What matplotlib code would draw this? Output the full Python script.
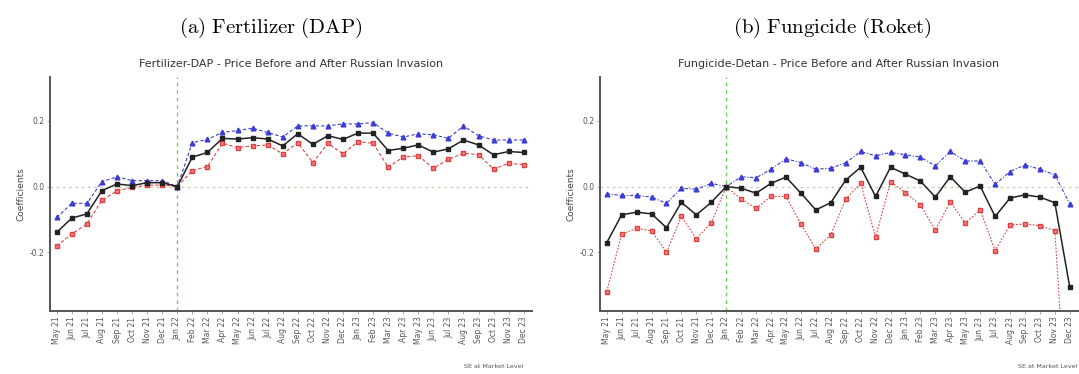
import numpy as np
import matplotlib.pyplot as plt

plt.rcParams['mathtext.fontset'] = 'cm'

months = ["May 21", "Jun 21", "Jul 21", "Aug 21", "Sep 21", "Oct 21", "Nov 21", "Dec 21",
          "Jan 22", "Feb 22", "Mar 22", "Apr 22", "May 22", "Jun 22", "Jul 22", "Aug 22",
          "Sep 22", "Oct 22", "Nov 22", "Dec 22", "Jan 23", "Feb 23", "Mar 23", "Apr 23",
          "May 23", "Jun 23", "Jul 23", "Aug 23", "Sep 23", "Oct 23", "Nov 23", "Dec 23"]

# Fertilizer (DAP): coefficient, upper and lower bound
dap_coef = [-0.139, -0.096, -0.083, -0.012, 0.008, 0.003, 0.012, 0.012,
            0.0, 0.090, 0.104, 0.147, 0.145, 0.149, 0.145, 0.124,
            0.161, 0.129, 0.155, 0.144, 0.163, 0.163, 0.110, 0.117,
            0.127, 0.105, 0.115, 0.142, 0.127, 0.097, 0.107, 0.104]
dap_upper = [-0.094, -0.051, -0.051, 0.015, 0.030, 0.018, 0.018, 0.018,
             0.0, 0.134, 0.144, 0.165, 0.171, 0.178, 0.165, 0.151,
             0.185, 0.185, 0.185, 0.191, 0.191, 0.195, 0.163, 0.151,
             0.161, 0.158, 0.147, 0.185, 0.155, 0.142, 0.142, 0.142]
dap_lower = [-0.181, -0.144, -0.114, -0.041, -0.013, -0.002, 0.004, 0.005,
             0.0, 0.049, 0.061, 0.132, 0.119, 0.124, 0.127, 0.100,
             0.134, 0.073, 0.132, 0.100, 0.137, 0.132, 0.059, 0.090,
             0.094, 0.056, 0.083, 0.102, 0.097, 0.053, 0.071, 0.067]

# Fungicide (Detan)
fun_coef = [-0.171, -0.086, -0.078, -0.083, -0.125, -0.048, -0.086, -0.048,
            0.0, -0.005, -0.020, 0.010, 0.029, -0.020, -0.071, -0.049,
            0.020, 0.059, -0.030, 0.059, 0.038, 0.017, -0.032, 0.030,
            -0.017, 0.002, -0.091, -0.035, -0.025, -0.032, -0.049, -0.307]
fun_upper = [-0.022, -0.027, -0.027, -0.032, -0.051, -0.005, -0.008, 0.010,
             0.0, 0.030, 0.027, 0.053, 0.085, 0.073, 0.053, 0.056,
             0.073, 0.107, 0.094, 0.104, 0.097, 0.090, 0.063, 0.107,
             0.078, 0.078, 0.007, 0.046, 0.066, 0.053, 0.036, -0.053]
fun_lower = [-0.320, -0.145, -0.127, -0.135, -0.200, -0.091, -0.159, -0.110,
             0.0, -0.038, -0.066, -0.030, -0.030, -0.114, -0.190, -0.147,
             -0.038, 0.010, -0.154, 0.015, -0.018, -0.056, -0.132, -0.046,
             -0.112, -0.071, -0.195, -0.117, -0.114, -0.119, -0.134, -0.85]

# subcaption, title, data, axes [left, width] in pixels, caption x, line styles
panels = [
    ("$\\mathrm{(a)\\ Fertilizer\\ (DAP)}$", "Fertilizer-DAP - Price Before and After Russian Invasion",
     dap_coef, dap_upper, dap_lower, (50, 482), 271, 524, (0, (3, 2)), (0, (3, 2))),
    ("$\\mathrm{(b)\\ Fungicide\\ (Roket)}$", "Fungicide-Detan - Price Before and After Russian Invasion",
     fun_coef, fun_upper, fun_lower, (600, 478), 832, 1077, (0, (3, 1.5, 1, 1.5)), (0, (1.5, 1.5))),
]

W, H = 1079, 374
fig = plt.figure(figsize=(W / 100, H / 100), dpi=100)
x = np.arange(len(months))

for sub, title, coef, upper, lower, (x0, w), sub_x, cap_x, ls_up, ls_lo in panels:
    ax = fig.add_axes([x0 / W, 1 - 311 / H, w / W, (311 - 77) / H])
    ax.axhline(0, color="#c8c8a8", lw=0.9, ls=(0, (2, 3)), zorder=1)
    ax.axvline(8, color="#66cc55", lw=0.9, ls=(0, (3, 3)), zorder=1)
    ax.plot(x, upper, color="#3b3bd6", lw=0.8, ls=ls_up, marker="^", ms=3.4, zorder=3)
    ax.plot(x, lower, color="#e04040", lw=0.8, ls=ls_lo, marker="s", ms=3,
            mfc="#f08080", zorder=3)
    ax.plot(x, coef, color="#222222", lw=1.1, marker="s", ms=3.2, zorder=4)

    ax.set_xlim(-0.45, 31.55)
    ax.set_ylim(-0.379, 0.334)
    ax.set_xticks(x)
    ax.set_xticklabels(months, rotation=90, fontsize=5.5, color="#555555")
    ax.set_yticks([-0.2, 0.0, 0.2])
    ax.set_yticklabels(["-0.2", "0.0", "0.2"], fontsize=5.5, color="#555555")
    ax.tick_params(length=2, width=0.5, color="#888888", pad=2)
    for s in ["top", "right"]:
        ax.spines[s].set_visible(False)
    for s in ["left", "bottom"]:
        ax.spines[s].set_color("#555555")
        ax.spines[s].set_linewidth(1.4)
    ax.set_ylabel("Coefficients", fontsize=6.5, color="#444444", labelpad=3)
    ax.set_title(title, fontsize=8, color="#333333", pad=7)

    fig.text(sub_x / W, 1 - 28 / H, sub, ha="center", va="center", fontsize=15)
    fig.text(cap_x / W, 1 - 367 / H, "SE at Market Level",
             ha="right", va="center", fontsize=4.6, color="#555555")

plt.savefig("out.png", dpi=100)
